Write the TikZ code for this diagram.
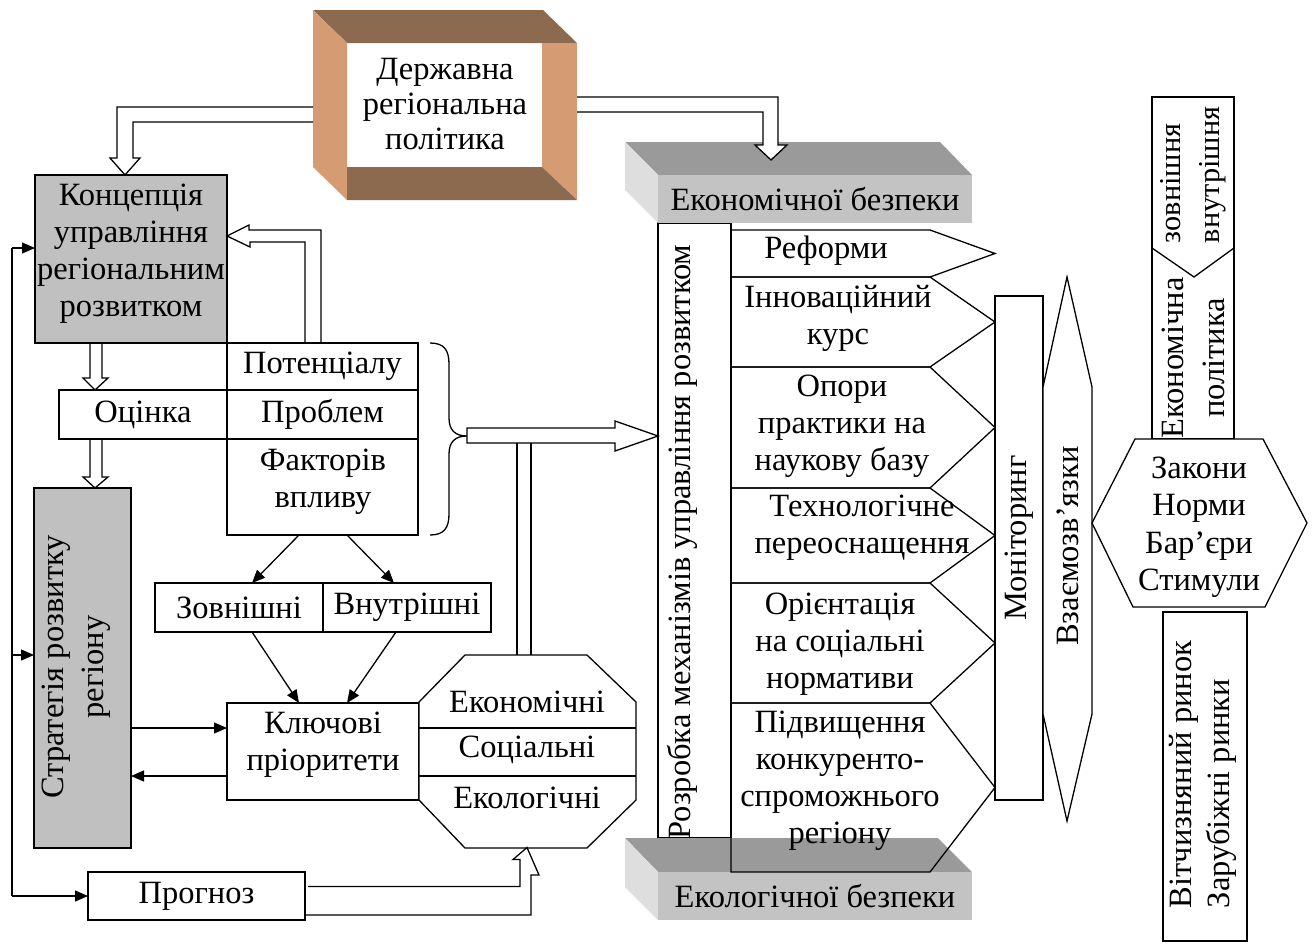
\documentclass[tikz,border=0pt]{standalone}
\usepackage{fontspec}
\setmainfont{Liberation Serif}
\usetikzlibrary{arrows.meta,calc}
\definecolor{boxgray}{HTML}{C0C0C0}
\definecolor{topgray}{HTML}{9A9A9A}
\definecolor{sidegray}{HTML}{DEDEDE}
\definecolor{frontgray}{HTML}{C3C3C3}
\definecolor{brdark}{HTML}{8C6A4F}
\definecolor{brlight}{HTML}{D59B73}
\newcommand\dtxt{\fontsize{32.5}{37}\selectfont}
\begin{document}
\begin{tikzpicture}[x=1pt,y=-1pt,
  every node/.style={inner sep=0pt,outer sep=0pt,font=\dtxt},
  ln/.style={line width=1.3pt,line join=miter},
  cell/.style={ln,draw,fill=white,anchor=north west},
  arr/.style={ln,-{Triangle[length=13pt,width=11pt]}},
  lbl/.style={align=center},
  vlbl/.style={align=center,rotate=90}]
\useasboundingbox (0,0) rectangle (1314,943);

% --- state policy frame ---
\fill[brdark] (313,10) -- (543,10) -- (577,43) -- (347,43) -- cycle;
\fill[brlight] (313,10) -- (347,43) -- (347,200) -- (313,167) -- cycle;
\fill[brlight] (542,43) -- (577,43) -- (577,200) -- (542,167) -- cycle;
\fill[brdark] (347,167) -- (542,167) -- (577,200) -- (347,200) -- cycle;
\node[minimum width=264pt,minimum height=190pt] (gov) at (445,105) {};
\node[lbl,font=\fontsize{32.5}{35}\selectfont] at (445,104) {Державна\\регіональна\\політика};

% --- left column ---
\node[cell,fill=boxgray,minimum width=192pt,minimum height=168pt] (konc) at (35,175) {};
\node[lbl] at (131,254) {Концепція\\управління\\регіональним\\розвитком};

\node[cell,minimum width=191pt,minimum height=47pt] (pot) at (227,343) {Потенціалу};
\node[cell,minimum width=168pt,minimum height=49pt] (ocin) at (59,390) {Оцінка};
\node[cell,minimum width=191pt,minimum height=49pt] (prob) at (227,390) {Проблем};
\node[cell,minimum width=191pt,minimum height=96pt] (fact) at (227,439) {};
\node[lbl] at (323,482) {Факторів\\впливу};

\node[cell,fill=boxgray,minimum width=97pt,minimum height=360pt] (strat) at (34,488) {};
\node[vlbl,font=\fontsize{32.5}{40}\selectfont] at (76,667) {Стратегія розвитку\\регіону};

\node[cell,minimum width=168pt,minimum height=49pt] (zov) at (155,583) {Зовнішні};
\node[cell,minimum width=168pt,minimum height=49pt] (vnu) at (323,583) {Внутрішні};

\node[cell,minimum width=192pt,minimum height=97pt] (klyuch) at (227,703) {};
\node[lbl] at (323,745) {Ключові\\пріоритети};

\node[cell,minimum width=217pt,minimum height=48pt] (prog) at (88,872) {Прогноз};

% priorities octagon
\draw[ln,fill=white] (465,655) -- (587,655) -- (636,702) -- (636,800) -- (587,848)
  -- (465,848) -- (419,800) -- (419,702) -- cycle;
\node[minimum width=217pt,minimum height=193pt] (oct) at (527,751) {};
\draw[ln] (419,728) -- (636,728) (419,776) -- (636,776);
\node at (527,702) {Економічні};
\node at (527,750) {Соціальні};
\node at (527,798) {Екологічні};

% --- hollow arrows ---
\draw[ln] ([yshift=-2pt]gov.west) -- ++(-196,0) -- ++(0,51) -- ++(-7,0) -- ++(15,17)
  -- ++(15,-17) -- ++(-7,0) -- ++(0,-36) -- ++(180,0);
% table -> concept
\draw[ln] ([xshift=78pt]pot.north west) -- ++(0,-101) -- ++(-55,0) -- ++(0,5)
  -- (konc.east |- 0,236) -- ++(22,-11) -- ++(0,5) -- ++(72,0) -- ++(0,113);
% concept -> assessment -> strategy
\draw[ln] ([xshift=55pt]konc.south west) -- ++(0,35) -- ++(-7,0) -- ++(12,12) -- ++(13,-12)
  -- ++(-6,0) -- ++(0,-35);
\draw[ln] ([xshift=31pt]ocin.south west) -- ++(0,38) -- ++(-7,0) -- ++(12,11) -- ++(13,-11)
  -- ++(-6,0) -- ++(0,-38);
% forecast -> octagon
\draw[ln] (prog.south east) ++(0,-5) -- ++(226,0) -- ++(0,-40) -- ++(8,0) -- (oct.south)
  -- ++(-14,12) -- ++(7,0) -- ++(0,27) -- ++(-212,0);
% octagon stem and the wide arrow into the mechanisms column
\draw[ln] (517,655) -- (517,443) (531,655) -- (531,443);

% brace over the table
\draw[ln,line join=round] (430,343) .. controls (444,343) and (449,350) .. (449,364) -- (449,418)
  .. controls (449,430) and (455,436) .. (467,436)
  .. controls (455,436) and (449,442) .. (449,454) -- (449,514)
  .. controls (449,528) and (444,535) .. (430,535);

% --- mechanisms column ---
\node[cell,minimum width=73pt,minimum height=615pt] (rozr) at (658,223) {};
\draw[ln,fill=white] (467,428) -- (615,428) -- (615,421) -- (rozr.west |- 0,436) -- (615,451)
  -- (615,443) -- (467,443) -- cycle;

% economic security block
\fill[topgray] (625,142) -- (940,142) -- (972,175) -- (658,175) -- cycle;
\fill[sidegray] (625,142) -- (658,175) -- (658,223) -- (625,190) -- cycle;
\fill[frontgray] (658,175) rectangle (972,223);
\node (econ) at (815,199) {Економічної безпеки};
% ecological security block
\fill[topgray] (625,838) -- (938,838) -- (972,872) -- (658,872) -- cycle;
\fill[sidegray] (625,838) -- (658,872) -- (658,920) -- (625,887) -- cycle;
\fill[frontgray] (658,872) rectangle (972,920);
\node (eco) at (815,896) {Екологічної безпеки};

% policy -> economic security
\draw[ln,fill=white] ([yshift=8pt]gov.east) -- ++(201,0) -- ++(0,48) -- ++(9,0) -- ++(-16,15)
  -- ++(-16,-15) -- ++(8,0) -- ++(0,-33) -- ++(-186,0);

\node[rotate=90] (rozrt) at (682,542) {Розробка механізмів управління розвитком};

% directions of the mechanisms
\foreach \t/\b in {230/277,277/367,367/488,488/583,583/703,703/872}
  \draw[ln] (731,\t) -- (930,\t) -- (995,{(\t+\b)/2}) -- (930,\b) -- (731,\b) -- cycle;
\node (p1) at (826,251) {Реформи};
\node[lbl] (p2) at (838,318) {Інноваційний\\курс};
\node[lbl] (p3) at (842,426) {Опори\\практики на\\наукову базу};
\node[lbl] (p4) at (862,528) {Технологічне\\переоснащення};
\node[lbl] (p5) at (840,644) {Орієнтація\\на соціальні\\нормативи};
\node[lbl] (p6) at (840,781) {Підвищення\\конкуренто-\\спроможнього\\регіону};

% monitoring and interrelations
\node[cell,minimum width=48pt,minimum height=504pt] (mon) at (995,296) {};
\node[rotate=90] at (1019,538) {Моніторинг};
\draw[ln,fill=white] (1067,277) -- (1092,387) -- (1092,714) -- (1067,821) -- (1043,714)
  -- (1043,387) -- cycle;
\node[rotate=90] (link) at (1068,546) {Взаємозв’язки};

% --- right column ---
\node[cell,minimum width=82pt,minimum height=342pt] (pol) at (1152,97) {};
\draw[ln] (pol.west |- 0,248) -- (1194,277) -- (pol.east |- 0,248);
\node[rotate=90,align=left,anchor=west,font=\fontsize{30.3}{39}\selectfont] at (1193,243) {зовнішня\\внутрішня};
\node[vlbl,font=\fontsize{32.5}{41}\selectfont] at (1193,358) {Економічна\\політика};

\draw[ln,fill=white] (1135,439) -- (1263,439) -- (1307,523) -- (1265,607) -- (1133,607)
  -- (1092,523) -- cycle;
\node[lbl,font=\fontsize{32.5}{37.5}\selectfont] (laws) at (1199,527) {Закони\\Норми\\Бар’єри\\Стимули};

\node[cell,minimum width=84pt,minimum height=329pt] (mkt) at (1163,612) {};
\node[rotate=90,align=left,anchor=west,font=\fontsize{32.5}{38}\selectfont] at (1203,908) {Вітчизняний ринок\\Зарубіжні ринки};

% --- feedback connectors ---
\coordinate (fb) at (12,248);
\draw[arr] (fb) -- (fb -| konc.west);
\draw[ln] (fb) -- (fb |- prog.west);
\draw[arr] (fb |- prog.west) -- (prog.west);
\coordinate (s1) at ([yshift=-167pt]strat.north west);
\draw[arr] (fb |- s1) -- (s1);
\coordinate (k1) at ([yshift=-25pt]klyuch.north west);
\coordinate (k2) at ([yshift=-73pt]klyuch.north west);
\draw[arr] (strat.east |- k1) -- (k1);
\draw[arr] (k2) -- (strat.east |- k2);
\draw[arr] ([xshift=72pt]fact.south west) -- ([xshift=97pt]zov.north west);
\draw[arr] ([xshift=120pt]fact.south west) -- ([xshift=71pt]vnu.north west);
\draw[arr] ([xshift=97pt]zov.south west) -- ([xshift=72pt]klyuch.north west);
\draw[arr] ([xshift=73pt]vnu.south west) -- ([xshift=120pt]klyuch.north west);
\end{tikzpicture}
\end{document}
